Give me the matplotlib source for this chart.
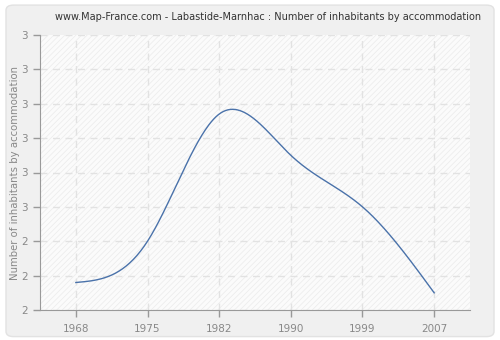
import numpy as np
import matplotlib
matplotlib.use('Agg')
import matplotlib.pyplot as plt
from matplotlib.patches import FancyBboxPatch, Rectangle

# data
years = ['1968', '1975', '1982', '1990', '1999', '2007']
values = [2.28, 2.40, 2.77, 2.65, 2.50, 2.25]
y_ticks = [2.2, 2.3, 2.4, 2.5, 2.6, 2.7, 2.8, 2.9, 3.0]
y_labels = ['2', '2', '2', '3', '3', '3', '3', '3', '3']


def natural_spline(x, y, n=300):
    # natural cubic spline, to get the smooth curve
    x = np.asarray(x, float)
    y = np.asarray(y, float)
    k = len(x)
    h = np.diff(x)
    A = np.zeros((k, k))
    b = np.zeros(k)
    A[0, 0] = 1
    A[-1, -1] = 1
    for i in range(1, k - 1):
        A[i, i - 1] = h[i - 1]
        A[i, i] = 2 * (h[i - 1] + h[i])
        A[i, i + 1] = h[i]
        b[i] = 3 * ((y[i + 1] - y[i]) / h[i] - (y[i] - y[i - 1]) / h[i - 1])
    c = np.linalg.solve(A, b)
    xs = np.linspace(x[0], x[-1], n)
    ys = np.empty_like(xs)
    for j, xv in enumerate(xs):
        i = min(np.searchsorted(x, xv, side='right') - 1, k - 2)
        bi = (y[i + 1] - y[i]) / h[i] - h[i] * (2 * c[i] + c[i + 1]) / 3
        di = (c[i + 1] - c[i]) / (3 * h[i])
        t = xv - x[i]
        ys[j] = y[i] + bi * t + c[i] * t ** 2 + di * t ** 3
    return xs, ys


plt.rcParams['hatch.linewidth'] = 0.5

fig = plt.figure(figsize=(5, 3.4), dpi=100, facecolor='white')
fig.patches.append(FancyBboxPatch((0.012, 0.01), 0.976, 0.975,
                                  boxstyle='round,pad=0,rounding_size=0.015',
                                  transform=fig.transFigure, facecolor='#f0f0f0',
                                  edgecolor='#e2e2e2', linewidth=1, zorder=-5))

# categories are evenly spaced
pos = np.arange(len(years))

ax = fig.add_axes([40 / 500, 1 - 310 / 340, 430 / 500, 275 / 340])
ax.set_facecolor('#fbfbfb')
ax.add_patch(Rectangle((0, 0), 1, 1, transform=ax.transAxes, facecolor='none',
                       edgecolor='#ebebeb', hatch='//////', linewidth=0, zorder=0))

xs, ys = natural_spline(pos, values)
ax.plot(xs, ys, color='#4a72aa', linewidth=1, zorder=3)

ax.set_xlim(-0.5, 5.5)
ax.set_ylim(2.2, 3.0)
ax.set_xticks(pos)
ax.set_xticklabels(years)
ax.set_yticks(y_ticks)
ax.set_yticklabels(y_labels)

ax.grid(True, color='#e2e2e2', linestyle=(0, (5, 4)), linewidth=1)
for s in ['top', 'right']:
    ax.spines[s].set_visible(False)
for s in ['left', 'bottom']:
    ax.spines[s].set_color('#999999')
ax.tick_params(colors='#999999', labelcolor='#888888', labelsize=7.5, length=5, width=1)
ax.tick_params(axis='x', pad=5)

ax.set_ylabel('Number of inhabitants by accommodation', fontsize=7.3, color='#888888')
ax.yaxis.set_label_coords(-0.047, 0.5)
fig.text(0.536, 1 - 17 / 340, 'www.Map-France.com - Labastide-Marnhac : Number of inhabitants by accommodation',
         ha='center', va='center', fontsize=7.0, color='#333333')

fig.savefig('out.png', dpi=100, facecolor=fig.get_facecolor())
